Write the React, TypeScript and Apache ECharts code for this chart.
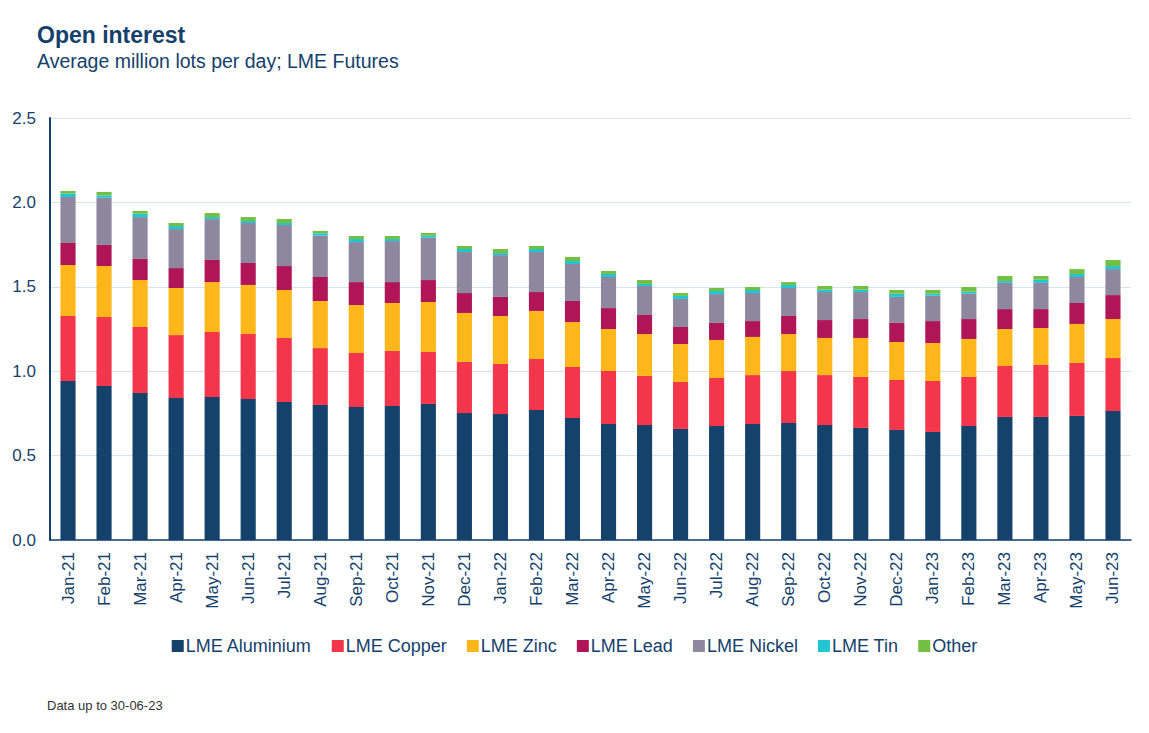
import React, { useEffect, useRef } from "react";
import * as echarts from "echarts";

const categories = [
  "Jan-21", "Feb-21", "Mar-21", "Apr-21", "May-21", "Jun-21", "Jul-21", "Aug-21", "Sep-21", "Oct-21",
  "Nov-21", "Dec-21", "Jan-22", "Feb-22", "Mar-22", "Apr-22", "May-22", "Jun-22", "Jul-22", "Aug-22",
  "Sep-22", "Oct-22", "Nov-22", "Dec-22", "Jan-23", "Feb-23", "Mar-23", "Apr-23", "May-23", "Jun-23",
];

const aluminium = [0.942, 0.912, 0.871, 0.841, 0.847, 0.835, 0.818, 0.800, 0.788, 0.794, 0.806, 0.752, 0.746, 0.770, 0.723, 0.687, 0.681, 0.658, 0.675, 0.687, 0.693, 0.681, 0.664, 0.652, 0.640, 0.675, 0.729, 0.729, 0.735, 0.764];
const copper = [0.385, 0.409, 0.391, 0.373, 0.385, 0.385, 0.379, 0.337, 0.320, 0.326, 0.308, 0.303, 0.297, 0.302, 0.302, 0.314, 0.291, 0.278, 0.285, 0.290, 0.308, 0.296, 0.302, 0.296, 0.302, 0.291, 0.302, 0.308, 0.314, 0.314];
const zinc = [0.302, 0.302, 0.278, 0.279, 0.296, 0.291, 0.284, 0.279, 0.284, 0.284, 0.296, 0.290, 0.284, 0.285, 0.266, 0.249, 0.248, 0.225, 0.225, 0.226, 0.219, 0.220, 0.231, 0.225, 0.225, 0.225, 0.219, 0.219, 0.231, 0.231];
const lead = [0.130, 0.125, 0.125, 0.118, 0.131, 0.130, 0.142, 0.142, 0.136, 0.124, 0.130, 0.118, 0.113, 0.112, 0.125, 0.124, 0.113, 0.101, 0.101, 0.094, 0.107, 0.106, 0.112, 0.113, 0.130, 0.118, 0.118, 0.112, 0.124, 0.142];
const nickel = [0.273, 0.280, 0.248, 0.231, 0.242, 0.237, 0.243, 0.245, 0.237, 0.243, 0.251, 0.243, 0.248, 0.237, 0.219, 0.184, 0.172, 0.166, 0.171, 0.166, 0.166, 0.166, 0.160, 0.154, 0.150, 0.150, 0.155, 0.155, 0.154, 0.154];
const tin = [0.020, 0.014, 0.020, 0.018, 0.012, 0.012, 0.012, 0.014, 0.018, 0.012, 0.012, 0.018, 0.012, 0.018, 0.018, 0.018, 0.012, 0.018, 0.018, 0.018, 0.018, 0.014, 0.014, 0.019, 0.012, 0.012, 0.011, 0.019, 0.018, 0.018];
const other = [0.015, 0.020, 0.016, 0.018, 0.024, 0.023, 0.024, 0.014, 0.018, 0.018, 0.016, 0.018, 0.024, 0.018, 0.024, 0.018, 0.023, 0.017, 0.018, 0.018, 0.017, 0.022, 0.022, 0.022, 0.022, 0.028, 0.030, 0.022, 0.029, 0.036];

const yTicks = [0, 0.5, 1.0, 1.5, 2.0, 2.5];

const seriesDefs = [
  { name: "LME Aluminium", data: aluminium, color: "#14426b" },
  { name: "LME Copper", data: copper, color: "#f4364c" },
  { name: "LME Zinc", data: zinc, color: "#fdb71a" },
  { name: "LME Lead", data: lead, color: "#b01657" },
  { name: "LME Nickel", data: nickel, color: "#8e889f" },
  { name: "LME Tin", data: tin, color: "#22c6d3" },
  { name: "Other", data: other, color: "#72bf44" },
];

const FONT = "'Liberation Sans', Arial, sans-serif";
const NAVY = "#14416b";

export default function App() {
  const ref = useRef<HTMLDivElement>(null);
  useEffect(() => {
    if (!ref.current) return;
    const chart = echarts.init(ref.current, undefined, { renderer: "svg" });
    chart.setOption({
      animation: false,
      backgroundColor: "#ffffff",
      textStyle: { fontFamily: FONT },
      title: [
        {
          text: "Open interest",
          left: 37,
          top: 23,
          padding: 0,
          textStyle: { fontFamily: FONT, fontSize: 23, fontWeight: "bold", color: NAVY },
        },
        {
          text: "Average million lots per day; LME Futures",
          left: 37,
          top: 51,
          padding: 0,
          textStyle: { fontFamily: FONT, fontSize: 19.5, fontWeight: "normal", color: NAVY },
        },
        {
          text: "Data up to 30-06-23",
          left: 47,
          top: 699,
          padding: 0,
          textStyle: { fontFamily: FONT, fontSize: 13, fontWeight: "normal", color: "#333333" },
        },
      ],
      legend: {
        left: "center",
        top: 632,
        itemWidth: 12,
        itemHeight: 12,
        itemGap: 20,
        icon: "rect",
        textStyle: { fontFamily: FONT, fontSize: 18, color: NAVY, padding: [0, 0, 0, -3] },
        data: seriesDefs.map((s) => s.name),
      },
      grid: { left: 50, right: 18, top: 118, bottom: 193, containLabel: false },
      xAxis: {
        type: "category",
        data: categories,
        axisLine: { show: true, lineStyle: { color: NAVY, width: 1.5 } },
        axisTick: { show: false },
        axisLabel: {
          rotate: 90,
          fontFamily: FONT,
          fontSize: 17,
          color: NAVY,
          margin: 12,
          interval: 0,
        },
      },
      yAxis: {
        type: "value",
        min: 0,
        max: 2.5,
        interval: 0.5,
        axisLine: { show: true, lineStyle: { color: NAVY, width: 2 } },
        axisTick: { show: false },
        splitLine: { lineStyle: { color: "#d6e3f0", width: 1 } },
        axisLabel: {
          fontFamily: FONT,
          fontSize: 17,
          color: NAVY,
          margin: 14,
          formatter: (v: number) => (yTicks.includes(v) ? v.toFixed(1) : ""),
        },
      },
      series: seriesDefs.map((s) => ({
        name: s.name,
        type: "bar",
        stack: "total",
        barWidth: "42%",
        data: s.data,
        itemStyle: { color: s.color },
      })),
    });
    return () => chart.dispose();
  }, []);
  return (
    <div
      ref={ref}
      style={{ position: "fixed", left: 0, top: 0, width: 1149, height: 733, background: "#ffffff" }}
    />
  );
}
